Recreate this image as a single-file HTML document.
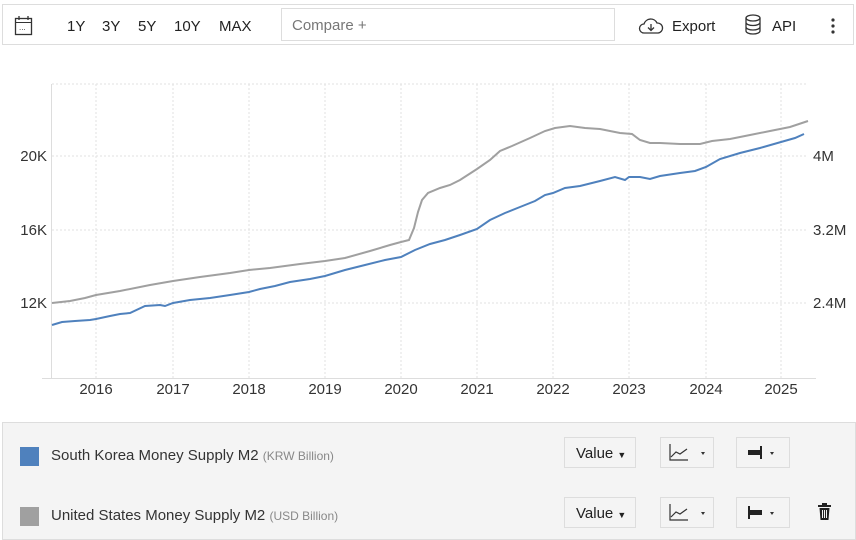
<!DOCTYPE html>
<html><head><style>
body{margin:0;width:856px;height:540px;background:#fff;font-family:"Liberation Sans",sans-serif;position:relative;overflow:hidden}
.top{position:absolute;left:2px;top:4px;width:852px;height:41px;border:1px solid #ddd;box-sizing:border-box}
.t{position:absolute;font-size:15px;color:#222}
.cmp{position:absolute;left:281px;top:8px;width:334px;height:33px;border:1px solid #ddd;box-sizing:border-box;font-size:15px;color:#777;padding:8px 10px}
.leg{position:absolute;left:2px;top:422px;width:854px;height:118px;background:#f4f4f4;border:1px solid #ddd;box-sizing:border-box}
.btn{position:absolute;height:31px;border:1px solid #ddd;box-sizing:border-box;background:#f4f4f4;font-size:15px;color:#222}
.sw{position:absolute;width:19px;height:19px}
.lt{position:absolute;font-size:15px;color:#333}
.lt span{font-size:12px;color:#888}
</style></head><body>
<div class="top"></div>
<svg style="position:absolute;left:14px;top:15px" width="20" height="22"><rect x="1.5" y="3.5" width="16" height="16" fill="none" stroke="#333" stroke-width="1.3"/><line x1="1.5" y1="7.5" x2="17.5" y2="7.5" stroke="#333"/><line x1="5" y1="1" x2="5" y2="5" stroke="#333" stroke-width="1.3"/><line x1="14" y1="1" x2="14" y2="5" stroke="#333" stroke-width="1.3"/><text x="5" y="15" font-size="8" fill="#333">...</text></svg>
<div class="t" style="left:67px;top:18px">1Y</div>
<div class="t" style="left:102px;top:18px">3Y</div>
<div class="t" style="left:138px;top:18px">5Y</div>
<div class="t" style="left:174px;top:18px">10Y</div>
<div class="t" style="left:219px;top:18px">MAX</div>
<div class="cmp">Compare +</div>
<svg style="position:absolute;left:638px;top:16px" width="26" height="20"><path d="M6 17 H20 A5 5 0 0 0 19 7 A7 7 0 0 0 6 8 A4.5 4.5 0 0 0 6 17Z" fill="none" stroke="#333" stroke-width="1.3"/><path d="M13 8 V14 M10 11.5 L13 14.5 L16 11.5" fill="none" stroke="#333" stroke-width="1.3"/></svg>
<div class="t" style="left:672px;top:18px">Export</div>
<svg style="position:absolute;left:744px;top:14px" width="20" height="22"><ellipse cx="9" cy="4" rx="7" ry="3" fill="none" stroke="#333" stroke-width="1.3"/><path d="M2 4V17A7 3 0 0 0 16 17V4M2 8.5A7 3 0 0 0 16 8.5M2 13A7 3 0 0 0 16 13" fill="none" stroke="#333" stroke-width="1.3"/></svg>
<div class="t" style="left:772px;top:18px">API</div>
<svg style="position:absolute;left:830px;top:17px" width="6" height="18"><circle cx="3" cy="3" r="1.6" fill="#333"/><circle cx="3" cy="9" r="1.6" fill="#333"/><circle cx="3" cy="15" r="1.6" fill="#333"/></svg>

<svg style="position:absolute;left:0;top:0" width="856" height="420" font-family="Liberation Sans" font-size="15">
<g stroke="#e2e2e2" stroke-dasharray="2,2">
<line x1="52" y1="84" x2="808" y2="84"/><line x1="52" y1="156" x2="808" y2="156"/><line x1="52" y1="230" x2="808" y2="230"/><line x1="52" y1="303" x2="808" y2="303"/>
<line x1="96" y1="84" x2="96" y2="378"/><line x1="173" y1="84" x2="173" y2="378"/><line x1="249" y1="84" x2="249" y2="378"/><line x1="325" y1="84" x2="325" y2="378"/><line x1="401" y1="84" x2="401" y2="378"/><line x1="477" y1="84" x2="477" y2="378"/><line x1="553" y1="84" x2="553" y2="378"/><line x1="629" y1="84" x2="629" y2="378"/><line x1="706" y1="84" x2="706" y2="378"/><line x1="781" y1="84" x2="781" y2="378"/>
</g>
<line x1="51.5" y1="84" x2="51.5" y2="379" stroke="#ddd"/>
<line x1="42" y1="378.5" x2="816" y2="378.5" stroke="#ddd"/>
<g fill="#333" text-anchor="end"><text x="47" y="161">20K</text><text x="47" y="235">16K</text><text x="47" y="308">12K</text></g>
<g fill="#333"><text x="813" y="161">4M</text><text x="813" y="235">3.2M</text><text x="813" y="308">2.4M</text></g>
<g fill="#333" text-anchor="middle"><text x="96" y="394">2016</text><text x="173" y="394">2017</text><text x="249" y="394">2018</text><text x="325" y="394">2019</text><text x="401" y="394">2020</text><text x="477" y="394">2021</text><text x="553" y="394">2022</text><text x="629" y="394">2023</text><text x="706" y="394">2024</text><text x="781" y="394">2025</text></g>
<polyline fill="none" stroke="#a0a0a0" stroke-width="2" points="52,303 70,301 85,298 96,295 120,291 150,285 173,281 200,277 230,273 249,270 270,268 300,264 325,261 345,258 370,251 390,245 401,242 409,240 414,228 418,212 422,200 428,193 440,188 450,185 460,180 477,169 490,160 500,151 512,146 530,138 545,131 555,128 570,126 585,128 600,129 620,133 632,134 640,140 650,143 660,143 680,144 700,144 712,141 730,139 750,135 770,131 790,127 808,121"/>
<polyline fill="none" stroke="#4f81bd" stroke-width="2" points="52,325 62,322 75,321 90,320 96,319 110,316 120,314 130,313 145,306 160,305 165,306 173,303 190,300 210,298 230,295 249,292 260,289 275,286 290,282 310,279 325,276 345,270 365,265 385,260 401,257 415,250 430,244 445,240 460,235 477,229 490,220 505,213 520,207 535,201 545,195 553,193 565,188 580,186 600,181 615,177 625,180 629,177 640,177 650,179 660,176 680,173 695,171 706,167 720,159 740,153 760,148 781,142 795,138 804,134"/>
</svg>

<div class="leg"></div>
<div class="sw" style="left:20px;top:447px;background:#4f81bd"></div>
<div class="lt" style="left:51px;top:447px">South Korea Money Supply M2 <span>(KRW Billion)</span></div>
<div class="sw" style="left:20px;top:507px;background:#a0a0a0"></div>
<div class="lt" style="left:51px;top:507px">United States Money Supply M2 <span>(USD Billion)</span></div>

<div class="btn" style="left:564px;top:437px;width:72px;padding:7px 0 0 11px">Value <span style="font-size:9px">▼</span></div>
<div class="btn" style="left:660px;top:437px;width:54px"><svg width="52" height="29"><path d="M9 6V22H27" fill="none" stroke="#333" stroke-width="1.2"/><path d="M10 19L15 14L19 16L26 11" fill="none" stroke="#333" stroke-width="1.2"/><path d="M40 14L44 14L42 17Z" fill="#333"/></svg></div>
<div class="btn" style="left:736px;top:437px;width:54px"><svg width="52" height="29"><rect x="11" y="12" width="12" height="5" fill="#222"/><rect x="23" y="8" width="2" height="13" fill="#222"/><path d="M33 14L37 14L35 17Z" fill="#333"/></svg></div>
<div class="btn" style="left:564px;top:497px;width:72px;padding:7px 0 0 11px">Value <span style="font-size:9px">▼</span></div>
<div class="btn" style="left:660px;top:497px;width:54px"><svg width="52" height="29"><path d="M9 6V22H27" fill="none" stroke="#333" stroke-width="1.2"/><path d="M10 19L15 14L19 16L26 11" fill="none" stroke="#333" stroke-width="1.2"/><path d="M40 14L44 14L42 17Z" fill="#333"/></svg></div>
<div class="btn" style="left:736px;top:497px;width:54px"><svg width="52" height="29"><rect x="11" y="8" width="2" height="13" fill="#222"/><rect x="13" y="12" width="12" height="5" fill="#222"/><path d="M33 14L37 14L35 17Z" fill="#333"/></svg></div>
<svg style="position:absolute;left:816px;top:502px" width="18" height="20"><rect x="2" y="3" width="13" height="2" fill="#222"/><rect x="6" y="1" width="5" height="2" fill="#222"/><path d="M3.5 6H13.5L12.5 18H4.5Z" fill="#222"/><path d="M6.5 8V16M8.5 8V16M10.5 8V16" stroke="#f4f4f4" stroke-width="1"/></svg>
</body></html>
